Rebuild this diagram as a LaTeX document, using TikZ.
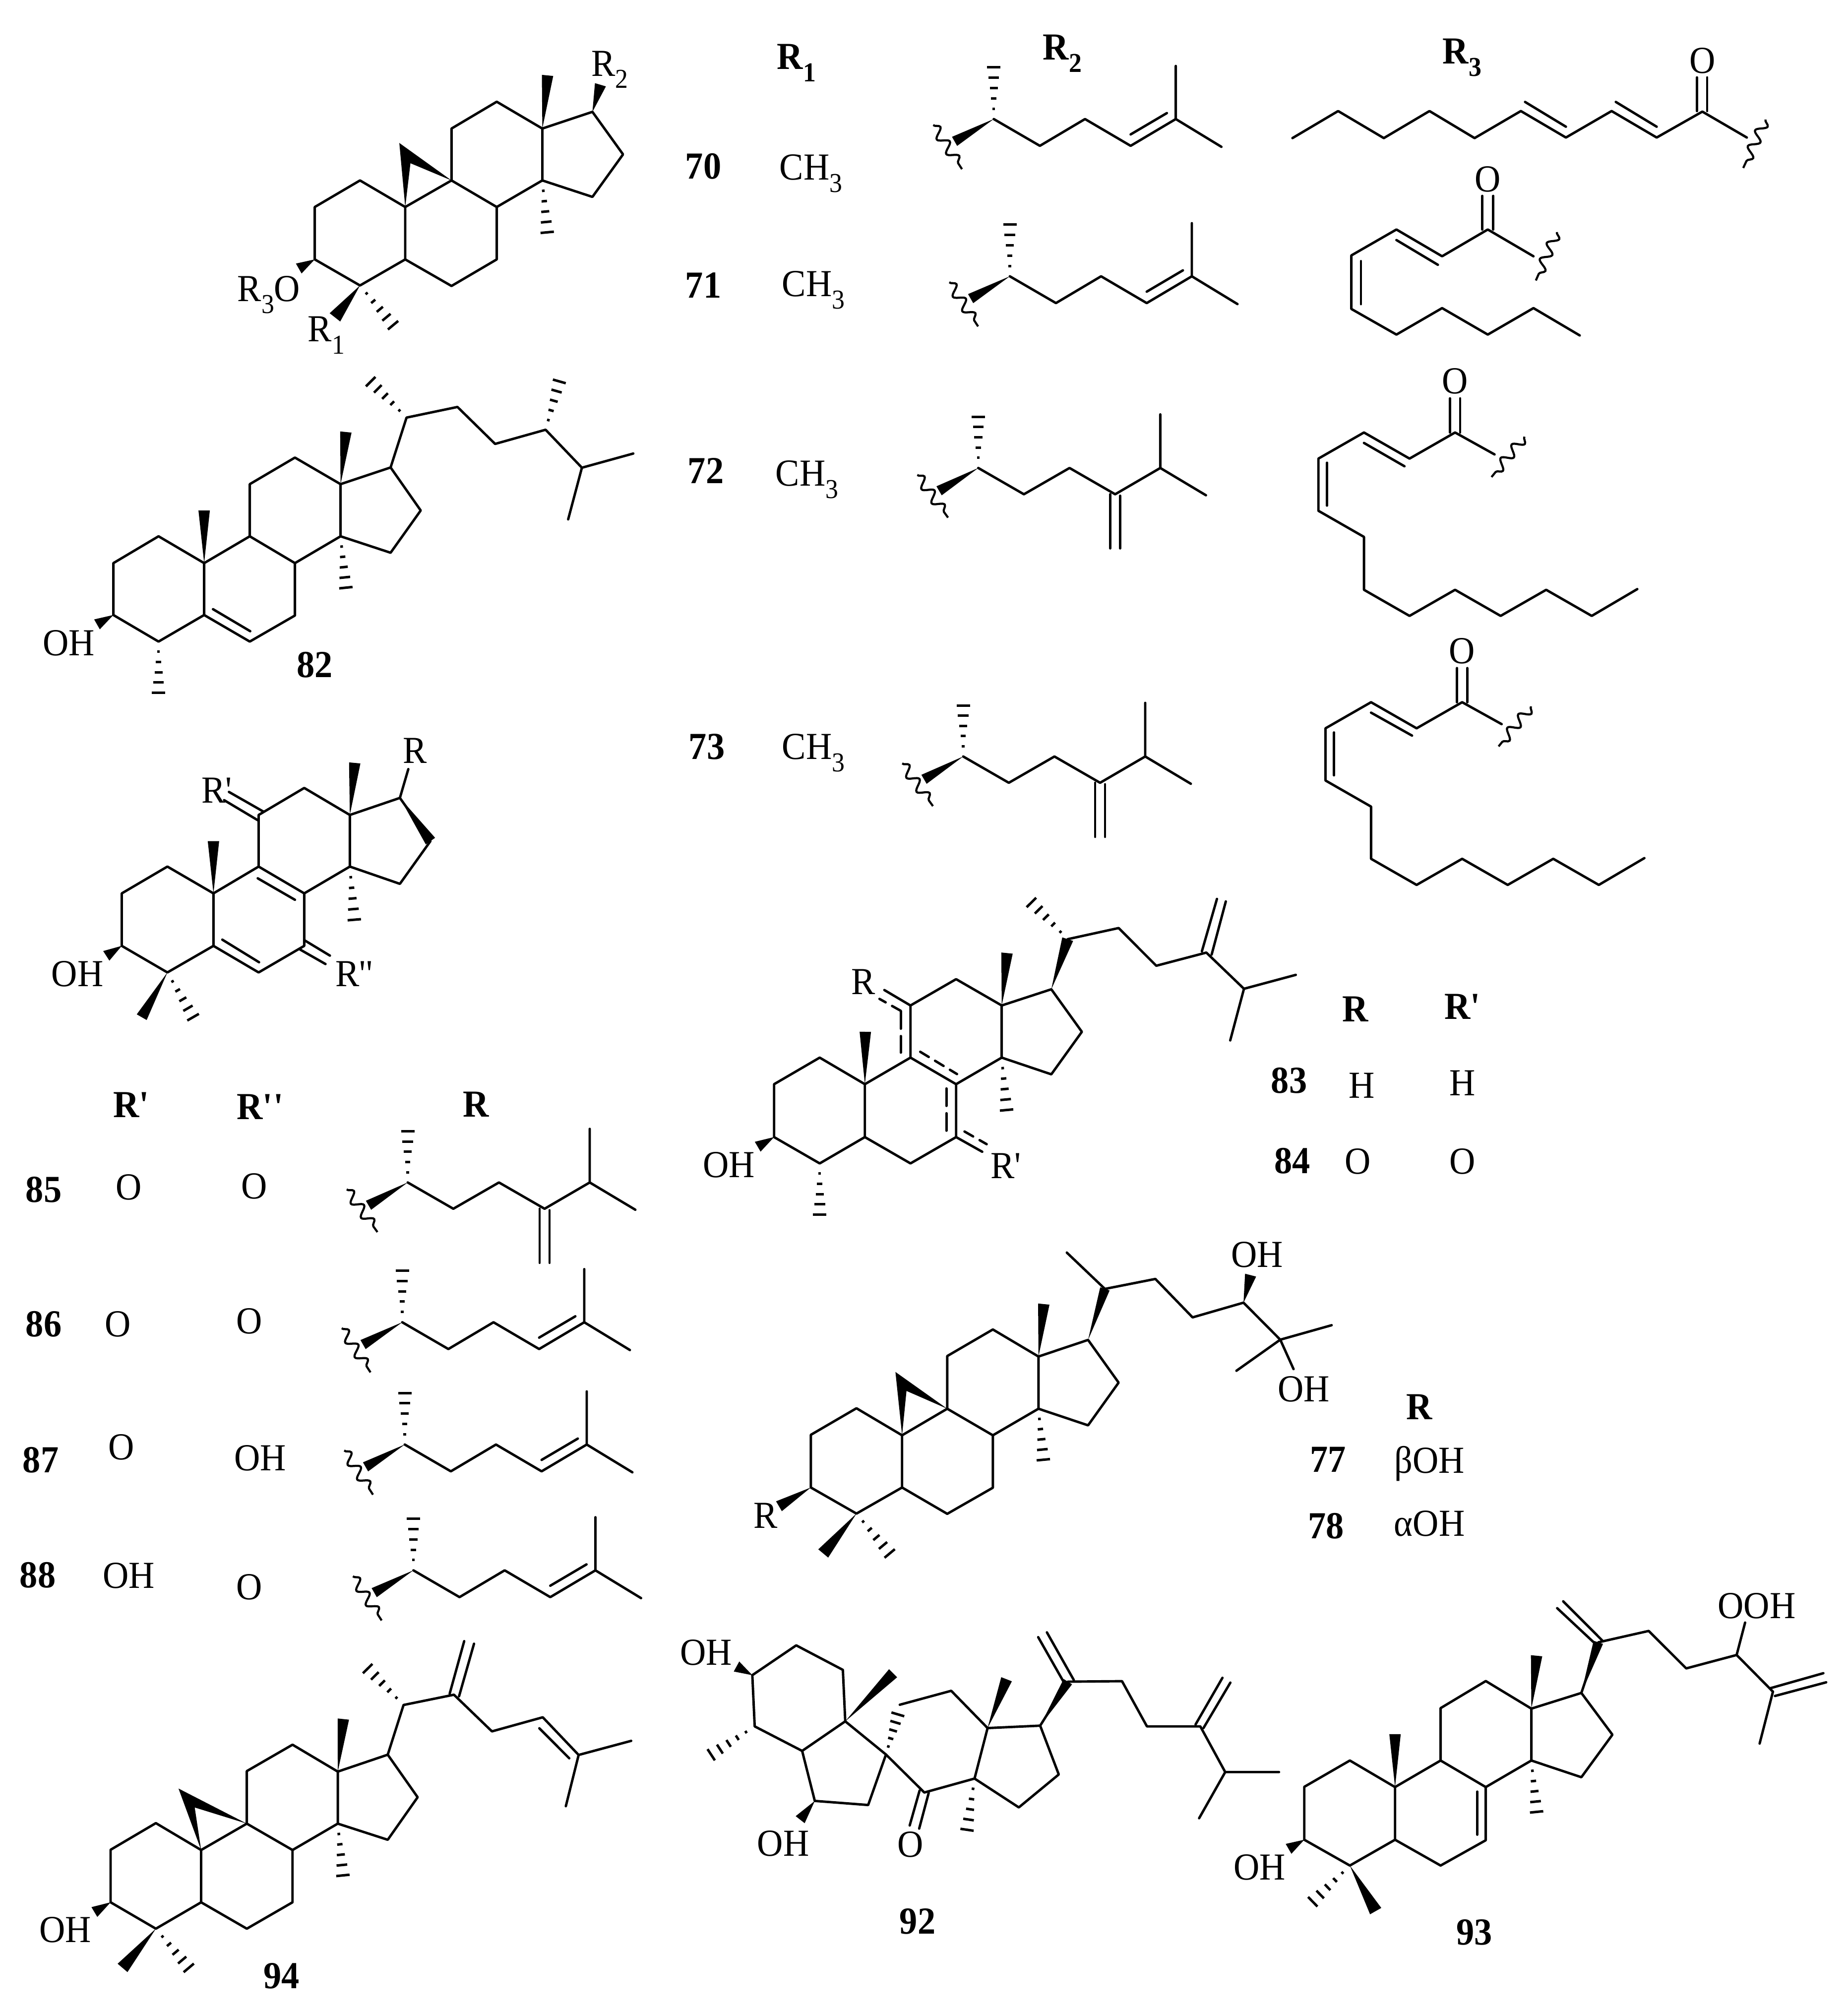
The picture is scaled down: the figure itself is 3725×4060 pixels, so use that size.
\documentclass[tikz,border=0pt]{standalone}
\usepackage{fontspec}
\setmainfont[FakeStretch=0.94]{Liberation Serif}
\usetikzlibrary{calc,decorations.pathmorphing}
\newcommand{\atoms}[2]{\foreach \n/\x/\y in {#2}{\coordinate (#1\n) at (\x,\y);}}
\newcommand{\wedgebond}[3][2.3pt]{\fill (#2) -- ($(#3)!#1!90:(#2)$) -- ($(#3)!#1!-90:(#2)$) -- cycle;}
\newcommand{\hashbond}[2]{%
  \coordinate (hashp) at ($(#2)!2.7pt!90:(#1)$);
  \coordinate (hashq) at ($(#2)!2.7pt!-90:(#1)$);
  \foreach \st in {0.2,0.4,0.6,0.8,1}{\draw[hashline] ($(#1)!\st!(hashp)$) -- ($(#1)!\st!(hashq)$);}}
% the four rings, atoms a to q
\newcommand{\rings}[1]{%
  \draw[bond] (#1a) -- (#1b) -- (#1c) -- (#1d) -- (#1e) -- (#1f) -- cycle;
  \draw[bond] (#1c) -- (#1g) -- (#1h) -- (#1i) -- (#1j) -- (#1d);
  \draw[bond] (#1g) -- (#1k) -- (#1l) -- (#1m) -- (#1n) -- (#1h);
  \draw[bond] (#1m) -- (#1o) -- (#1p) -- (#1q) -- (#1n);}
% side chain with the inner double bond
\newcommand{\chainA}[3]{%
  \begin{scope}[shift={(#2,#3)}]
  \atoms{#1}{a/0/0,h/0/-104,w/-79/45,b/93/54,c/184/0,d/276/54,e/367/0,f/367/-107,g/459/56,p/276/31,q/349/-12,u/-122/12,v/-64/101}
  \wedgebond[2.1pt]{#1a}{#1w}
  \hashbond{#1a}{#1h}
  \draw[bond] (#1a) -- (#1b) -- (#1c) -- (#1d) -- (#1e) -- (#1f);
  \draw[bond] (#1e) -- (#1g);
  \draw[bond] (#1p) -- (#1q);
  \draw[wavybond] (#1u) -- (#1v);
  \end{scope}}
% side chain with the exocyclic methylene
\newcommand{\chainB}[3]{%
  \begin{scope}[shift={(#2,#3)}]
  \atoms{#1}{a/0/0,h/0/-103,w/-79/46,b/92/53,c/184/0,d/276/53,e/367/0,f/367/-108,g/459/55,p/266/53,q/266/162,r/286/56,s/286/162,u/-123/14,v/-61/100}
  \wedgebond[2.1pt]{#1a}{#1w}
  \hashbond{#1a}{#1h}
  \draw[bond] (#1a) -- (#1b) -- (#1c) -- (#1d) -- (#1e) -- (#1f);
  \draw[bond] (#1e) -- (#1g);
  \draw[bond] (#1p) -- (#1q);
  \draw[bond] (#1r) -- (#1s);
  \draw[wavybond] (#1u) -- (#1v);
  \end{scope}}
\newcommand{\lowered}[1]{\raisebox{-0.32em}{\fontsize{11}{12}\selectfont #1}}
\begin{document}
\begin{tikzpicture}
[x=0.2pt,y=-0.2pt,
  bond/.style={line width=0.98pt,line join=round,line cap=round},
  hashline/.style={line width=1pt},
  wavybond/.style={line width=0.85pt,decorate,decoration={snake,segment length=7pt,amplitude=2pt}},
  txt/.style={inner sep=0pt,font=\fontsize{15.4}{18}\selectfont},
  num/.style={inner sep=0pt,font=\fontsize{15.4}{18}\selectfont\bfseries}]
\useasboundingbox (0,0) rectangle (3725,4060);
% 70-73 ring system
\begin{scope}[shift={(300,0)},x=0.14031pt,y=-0.10204pt]
\atoms{A}{a/477/818,b/607/713,c/737/818,d/737/1025,e/607/1128,f/477/1025,g/870/713,h/1000/818,i/1000/1025,j/870/1130,k/870/508,l/1000/402,m/1131/508,n/1131/713,o/1275/442,p/1363/610,q/1275/778,r/720/565,s/752/645,w1/1146/298,w2/1298/335,w3/431/1061,w4/535/1254,h1/1145/918,h2/702/1285}
\rings{A}
\fill (Ac) -- (Ar) -- (Ag) -- (As) -- cycle;
\wedgebond{Am}{Aw1}
\wedgebond{Ao}{Aw2}
\wedgebond{Af}{Aw3}
\wedgebond[2.7pt]{Ae}{Aw4}
\hashbond{An}{Ah1}
\hashbond{Ae}{Ah2}
\node[txt] (AR2) at (1325,275) {R\lowered{2}};
\node[txt] (AR3O) at (345,1165) {R\lowered{3}O};
\node[txt] (AR1) at (510,1325) {R\lowered{1}};
\end{scope}
% table heads and rows of 70-73
\node[num] (headR1) at (1606,127) {R\lowered{\bfseries 1}};
\node[num] (headR2) at (2142,108) {R\lowered{\bfseries 2}};
\node[num] (headR3) at (2948,116) {R\lowered{\bfseries 3}};
\node[num] (n70) at (1418,335) {70};
\node[num] (n71) at (1418,575) {71};
\node[num] (n72) at (1423,949) {72};
\node[num] (n73) at (1425,1505) {73};
\node[txt] (me70) at (1635,350) {CH\lowered{3}};
\node[txt] (me71) at (1640,585) {CH\lowered{3}};
\node[txt] (me72) at (1627,967) {CH\lowered{3}};
\node[txt] (me73) at (1640,1518) {CH\lowered{3}};
\chainA{ca}{2003.6}{240}
\chainA{cb}{2036}{557}
\chainB{cc}{1972.4}{943.4}
\chainB{cd}{1942}{1525}
% acyl groups 70, 71
\begin{scope}[shift={(1800,0)},x=0.24235pt,y=-0.1148pt]
\atoms{P}{a/665/485,b/741/390,c/817/485,d/893/390,e/968/485,f/1045/390,g/1120/483,h/1196/390,i/1271/483,j/1347/392,k/1421/483,l/1052/358,m/1120/445,n/1203/358,o/1271/445,p/1338/390,q/1338/272,r/1355/390,s/1355/272,u/1452/420,v/1415/590}
\draw[bond] (Pa) -- (Pb) -- (Pc) -- (Pd) -- (Pe) -- (Pf) -- (Pg) -- (Ph) -- (Pi) -- (Pj) -- (Pk);
\draw[bond] (Pl) -- (Pm);
\draw[bond] (Pn) -- (Po);
\draw[bond] (Pp) -- (Pq);
\draw[bond] (Pr) -- (Ps);
\draw[wavybond] (Pu) -- (Pv);
\node[txt] (PO) at (1347,213) {O};
\atoms{Q}{a/990/806,b/914/900,c/838/806,d/763/897,e/763/1085,f/838/1175,g/914/1082,h/990/1175,i/1066/1082,j/1143/1178,k/1066/900,l/907/930,m/838/843,n/779/917,o/779/1068,p/981/806,q/981/688,r/999/806,s/999/688,u/1105/815,v/1070/985}
\draw[bond] (Qk) -- (Qa) -- (Qb) -- (Qc) -- (Qd) -- (Qe) -- (Qf) -- (Qg) -- (Qh) -- (Qi) -- (Qj);
\draw[bond] (Ql) -- (Qm);
\draw[bond] (Qn) -- (Qo);
\draw[bond] (Qp) -- (Qq);
\draw[bond] (Qr) -- (Qs);
\draw[wavybond] (Qu) -- (Qv);
\node[txt] (QO) at (990,630) {O};
\end{scope}
% acyl groups 72, 73
\begin{scope}[shift={(1750,700)},x=0.20408pt,y=-0.1403pt]
\atoms{S}{a/1160/245,b/1070/320,c/980/245,d/890/320,e/890/470,f/980/545,g/980/697,h/1070/772,i/1160/697,j/1250/772,k/1340/697,l/1430/772,m/1520/695,n/1238/308,o/1060/342,p/980/275,q/907/332,r/907/455,t/1150/245,v/1150/147,w/1170/245,x/1170/147,y/1297/257,z/1232/373}
\draw[bond] (Sn) -- (Sa) -- (Sb) -- (Sc) -- (Sd) -- (Se) -- (Sf) -- (Sg) -- (Sh) -- (Si) -- (Sj) -- (Sk) -- (Sl) -- (Sm);
\draw[bond] (So) -- (Sp);
\draw[bond] (Sq) -- (Sr);
\draw[bond] (St) -- (Sv);
\draw[bond] (Sw) -- (Sx);
\draw[wavybond] (Sy) -- (Sz);
\node[txt] (SO) at (1160,98) {O};
\atoms{T}{a/1174/1020,b/1084/1095,c/994/1020,d/904/1095,e/904/1245,f/994/1320,g/994/1470,h/1084/1545,i/1174/1470,j/1264/1545,k/1354/1470,l/1444/1545,m/1534/1468,n/1252/1083,o/1075/1116,p/994/1050,q/921/1107,r/921/1230,t/1164/1020,v/1164/922,w/1184/1020,x/1184/922,y/1310/1032,z/1246/1147}
\draw[bond] (Tn) -- (Ta) -- (Tb) -- (Tc) -- (Td) -- (Te) -- (Tf) -- (Tg) -- (Th) -- (Ti) -- (Tj) -- (Tk) -- (Tl) -- (Tm);
\draw[bond] (To) -- (Tp);
\draw[bond] (Tq) -- (Tr);
\draw[bond] (Tt) -- (Tv);
\draw[bond] (Tw) -- (Tx);
\draw[wavybond] (Ty) -- (Tz);
\node[txt] (TO) at (1174,873) {O};
\end{scope}
% 82
\begin{scope}[shift={(0,700)},x=0.17857pt,y=-0.10204pt]
\atoms{B}{a/256/853,b/358/747,c/461/853,d/461/1058,e/358/1163,f/256/1058,g/564/747,h/666/853,i/666/1060,j/564/1163,k/564/541,l/666/436,m/769/541,n/769/747,o/882/475,p/950/645,q/882/812,r/918/278,s/1033/236,t/1118/382,u/1232/326,v/1314/476,w/1430/420,x/1283/680,y/481/1035,z/565/1122,w1/461/645,w2/781/335,w3/219/1095,h1/781/950,h2/358/1365,h3/837/136,h4/1263/135}
\rings{B}
\draw[bond] (By) -- (Bz);
\draw[bond] (Bo) -- (Br) -- (Bs) -- (Bt) -- (Bu) -- (Bv) -- (Bw);
\draw[bond] (Bv) -- (Bx);
\wedgebond{Bc}{Bw1}
\wedgebond{Bm}{Bw2}
\wedgebond{Bf}{Bw3}
\hashbond{Bn}{Bh1}
\hashbond{Be}{Bh2}
\hashbond{Br}{Bh3}
\hashbond{Bu}{Bh4}
\node[txt] (BOH) at (155,1168) {OH};
\node[num] (n82) at (711,1255) {82};
\end{scope}
% 85-88 ring system
\begin{scope}[shift={(0,1450)},x=0.17857pt,y=-0.08929pt]
\atoms{C}{a/275/786,b/378/665,c/482/786,d/482/1023,e/378/1143,f/275/1023,g/584/665,h/687/786,i/687/1023,j/584/1143,k/584/432,l/687/310,m/790/432,n/790/665,o/903/355,p/972/550,q/903/743,r/922/225,s/582/718,t/666/815,u/502/995,v/585/1097,a1/584/458,a2/506/365,a3/595/417,a4/517/328,b1/687/997,b2/745/1067,b3/678/1040,b4/735/1105,w1/482/550,w2/801/197,w3/240/1068,w4/320/1345,h1/800/905,h2/436/1345}
\rings{C}
\draw[bond] (Co) -- (Cr);
\draw[bond] (Cs) -- (Ct);
\draw[bond] (Cu) -- (Cv);
\draw[bond] (Ca1) -- (Ca2);
\draw[bond] (Ca3) -- (Ca4);
\draw[bond] (Cb1) -- (Cb2);
\draw[bond] (Cb3) -- (Cb4);
\wedgebond{Cc}{Cw1}
\wedgebond{Cm}{Cw2}
\wedgebond{Co}{Cp}
\wedgebond{Cf}{Cw3}
\wedgebond{Ce}{Cw4}
\hashbond{Cn}{Ch1}
\hashbond{Ce}{Ch2}
\node[txt] (COH) at (175,1150) {OH};
\node[txt] (CR1) at (490,320) {R\textquotesingle};
\node[txt] (CR2) at (800,1150) {R\textquotesingle\textquotesingle};
\node[txt] (CR) at (937,142) {R};
\end{scope}
% table of 85-88
\node[num] (headRa) at (265,2227) {R\textquotesingle};
\node[num] (headRb) at (525,2231) {R\textquotesingle\textquotesingle};
\node[num] (headRc) at (960,2226) {R};
\node[num] (n85) at (88,2398) {85};
\node[num] (n86) at (88,2669) {86};
\node[num] (n87) at (82,2943) {87};
\node[num] (n88) at (76,3175) {88};
\node[txt] (r85a) at (260,2393) {O};
\node[txt] (r85b) at (513,2391) {O};
\node[txt] (r86a) at (238,2669) {O};
\node[txt] (r86b) at (503,2663) {O};
\node[txt] (r87a) at (245,2917) {O};
\node[txt] (r87b) at (525,2939) {OH};
\node[txt] (r88a) at (260,3176) {OH};
\node[txt] (r88b) at (503,3199) {O};
\chainB{ce}{822}{2383.7}
\chainA{cf}{811}{2665.5}
\chainA{cg}{816}{2912}
\chainA{ch}{833.5}{3165.6}
% 83, 84
\begin{scope}[shift={(1300,1780)},x=0.17857pt,y=-0.10204pt]
\atoms{D}{a/292/795,b/395/690,c/497/795,d/497/1004,e/395/1108,f/292/1004,g/600/690,h/703/795,i/703/1004,j/600/1108,k/600/484,l/703/380,m/806/484,n/806/690,o/918/420,p/987/588,q/918/756,r/955/222,s/1070/178,t/1155/327,u/1268/275,v/1353/418,w/1470/363,x/1322/622,y1/1258/270,y2/1292/63,y3/1280/283,y4/1312/73,a1/578/507,a2/578/670,b1/622/667,b2/705/755,c1/681/812,c2/681/985,d1/541/423,d2/578/505,d3/530/458,e1/762/1062,e2/722/982,e3/772/1032,w1/498/588,w2/818/277,w3/255/1042,h1/817/897,h2/395/1310,h3/873/77}
\rings{D}
\draw[bond] (Dk) -- (Dd1);
\draw[bond] (Di) -- (De1);
\draw[bond,dashed,dash pattern=on 7pt off 3pt] (Da1) -- (Da2);
\draw[bond,dashed,dash pattern=on 4pt off 3pt] (Db1) -- (Db2);
\draw[bond,dashed,dash pattern=on 7pt off 3pt] (Dc1) -- (Dc2);
\draw[bond,dashed,dash pattern=on 4pt off 3pt] (Dd2) -- (Dd3);
\draw[bond,dashed,dash pattern=on 4pt off 3pt] (De2) -- (De3);
\draw[bond] (Dr) -- (Ds) -- (Dt) -- (Du) -- (Dv) -- (Dw);
\draw[bond] (Dv) -- (Dx);
\draw[bond] (Dy1) -- (Dy2);
\draw[bond] (Dy3) -- (Dy4);
\wedgebond{Dc}{Dw1}
\wedgebond{Dm}{Dw2}
\wedgebond{Do}{Dr}
\wedgebond{Df}{Dw3}
\hashbond{Dn}{Dh1}
\hashbond{De}{Dh2}
\hashbond{Dr}{Dh3}
\node[txt] (DOH) at (190,1115) {OH};
\node[txt] (DR1) at (816,1118) {R\textquotesingle};
\node[txt] (DR) at (493,390) {R};
\node[num] (n83) at (1455,780) {83};
\node[num] (n84) at (1462,1098) {84};
\end{scope}
\node[num] (headRd) at (2733,2034) {R};
\node[num] (headRe) at (2949,2029) {R\textquotesingle};
\node[txt] (r83a) at (2746,2188) {H};
\node[txt] (r83b) at (2949,2183) {H};
\node[txt] (r84a) at (2738,2341) {O};
\node[txt] (r84b) at (2949,2341) {O};
% 77, 78
\begin{scope}[shift={(1450,2450)},x=0.17857pt,y=-0.09566pt]
\atoms{E}{a/207/925,b/310/813,c/413/927,d/413/1147,e/310/1257,f/207/1147,g/515/815,h/618/927,i/618/1148,j/515/1258,k/515/593,l/618/481,m/721/595,n/721/815,o/833/525,p/902/705,q/833/885,r/398/660,s/423/740,t/871/310,u/785/157,v/985/268,w/1069/430,x/1184/368,y/1267/524,z/1383/463,y1/1168/655,y2/1297/648,w1/733/374,w2/135/1226,w3/235/1425,w4/1200/252,h1/732/1030,h2/385/1425}
\rings{E}
\fill (Ec) -- (Er) -- (Eg) -- (Es) -- cycle;
\draw[bond] (Et) -- (Eu);
\draw[bond] (Et) -- (Ev) -- (Ew) -- (Ex) -- (Ey) -- (Ez);
\draw[bond] (Ey) -- (Ey1);
\draw[bond] (Ey) -- (Ey2);
\wedgebond{Em}{Ew1}
\wedgebond[2pt]{Eo}{Et}
\wedgebond{Ef}{Ew2}
\wedgebond[2.6pt]{Ee}{Ew3}
\wedgebond{Ex}{Ew4}
\hashbond{En}{Eh1}
\hashbond{Ee}{Eh2}
\node[txt] (EOHa) at (1215,165) {OH};
\node[txt] (EOHb) at (1320,733) {OH};
\node[txt] (ER) at (105,1265) {R};
\node[num] (n77) at (1375,1030) {77};
\node[num] (n78) at (1370,1310) {78};
\end{scope}
\node[num] (headRf) at (2862,2836) {R};
\node[txt] (r77) at (2882,2951) {βOH};
\node[txt] (r78) at (2882,3071) {αOH};
% 94
\begin{scope}[shift={(0,3250)},x=0.17219pt,y=-0.10332pt]
\atoms{F}{a/259/927,b/365/823,c/471/928,d/471/1132,e/365/1235,f/259/1132,g/578/825,h/685/928,i/685/1132,j/578/1235,k/578/620,l/685/517,m/791/622,n/791/825,o/908/556,p/978/722,q/908/888,r/418/688,s/456/762,t/945/362,u/1063/322,v/1152/465,w/1271/410,x/1355/557,y/1478/502,z/1325/757,a1/1263/453,a2/1333/570,b1/1053/318,b2/1087/113,b3/1075/328,b4/1110/123,w1/804/417,w2/221/1170,w3/287/1388,h1/803/1027,h2/442/1388,h3/861/220}
\rings{F}
\fill (Fc) -- (Fr) -- (Fg) -- (Fs) -- cycle;
\draw[bond] (Fo) -- (Ft) -- (Fu) -- (Fv) -- (Fw) -- (Fx) -- (Fy);
\draw[bond] (Fx) -- (Fz);
\draw[bond] (Fa1) -- (Fa2);
\draw[bond] (Fb1) -- (Fb2);
\draw[bond] (Fb3) -- (Fb4);
\wedgebond{Fm}{Fw1}
\wedgebond{Ff}{Fw2}
\wedgebond[2.6pt]{Fe}{Fw3}
\hashbond{Fn}{Fh1}
\hashbond{Fe}{Fh2}
\hashbond{Ft}{Fh3}
\node[txt] (FOH) at (153,1240) {OH};
\node[num] (n94) at (659,1420) {94};
\end{scope}
% 92
\begin{scope}[shift={(1300,3200)},x=0.15944pt,y=-0.09694pt]
\atoms{G}{a/272/365,b/383/241,c/501/343,d/507/557,e/398/680,f/278/578,g/430/888,h/565/905,i/610/695,j/707/853,k/834/795,l/867/585,m/775/430,m1/645/488,n/1000/575,p/1047/778,q/946/915,s/1070/392,t/1207/390,u/1270/578,v/1405/578,x/1468/768,w/1604/768,y/1402/960,a1/1060/395,a2/995/207,a3/1085/385,a4/1017/187,b1/1393/570,b2/1461/376,b3/1413/585,b4/1481/396,c1/695/845,c2/670/990,c3/718/855,c4/694/1003,w1/915/382,w2/628/357,w3/232/329,w4/393/966,h1/640/528,h2/168/696,h3/815/1008}
\draw[bond] (Ga) -- (Gb) -- (Gc) -- (Gd) -- (Ge) -- (Gf) -- cycle;
\draw[bond] (Ge) -- (Gg) -- (Gh) -- (Gi) -- (Gd);
\draw[bond] (Gi) -- (Gj) -- (Gk) -- (Gl) -- (Gn) -- (Gp) -- (Gq) -- (Gk);
\draw[bond] (Gl) -- (Gm) -- (Gm1);
\draw[bond] (Gn) -- (Gs) -- (Gt) -- (Gu) -- (Gv) -- (Gx) -- (Gw);
\draw[bond] (Gx) -- (Gy);
\draw[bond] (Ga1) -- (Ga2);
\draw[bond] (Ga3) -- (Ga4);
\draw[bond] (Gb1) -- (Gb2);
\draw[bond] (Gb3) -- (Gb4);
\draw[bond] (Gc1) -- (Gc2);
\draw[bond] (Gc3) -- (Gc4);
\wedgebond{Gl}{Gw1}
\wedgebond{Gd}{Gw2}
\wedgebond{Ga}{Gw3}
\wedgebond{Gg}{Gw4}
\wedgebond[2pt]{Gn}{Gs}
\hashbond{Gi}{Gh1}
\hashbond{Gf}{Gh2}
\hashbond{Gk}{Gh3}
\node[txt] (GOHa) at (155,270) {OH};
\node[txt] (GOHb) at (350,1065) {OH};
\node[txt] (GO) at (672,1070) {O};
\node[num] (n92) at (690,1390) {92};
\end{scope}
% 93
\begin{scope}[shift={(2450,3150)},x=0.16263pt,y=-0.10204pt]
\atoms{H}{a/221/886,b/334/782,c/446/887,d/446/1095,e/334/1197,f/221/1095,g/559/782,h/671/887,i/671/1097,j/559/1197,k/559/575,l/671/468,m/784/577,n/784/782,o/908/515,p/985/680,q/908/848,r/950/315,s/1075/270,t/1168/418,u/1293/365,v/1383/510,x/1314/237,y/1350/715,a1/650/905,a2/650/1075,b1/942/320,b2/848/180,b3/960/308,b4/863/153,c1/1375/497,c2/1508/437,c3/1388/527,c4/1515/473,w1/446/678,w2/797/368,w3/182/1131,w4/398/1377,h1/797/985,h2/242/1340}
\rings{H}
\draw[bond] (Ha1) -- (Ha2);
\draw[bond] (Hb1) -- (Hb2);
\draw[bond] (Hb3) -- (Hb4);
\draw[bond] (Ho) -- (Hr) -- (Hs) -- (Ht) -- (Hu) -- (Hv);
\draw[bond] (Hu) -- (Hx);
\draw[bond] (Hc1) -- (Hc2);
\draw[bond] (Hc3) -- (Hc4);
\draw[bond] (Hv) -- (Hy);
\wedgebond{Hc}{Hw1}
\wedgebond{Hm}{Hw2}
\wedgebond[2pt]{Ho}{Hr}
\wedgebond{Hf}{Hw3}
\wedgebond[2.6pt]{He}{Hw4}
\hashbond{Hn}{Hh1}
\hashbond{He}{Hh2}
\node[txt] (HOH) at (110,1205) {OH};
\node[txt] (HOOH) at (1343,172) {OOH};
\node[num] (n93) at (643,1460) {93};
\end{scope}
\end{tikzpicture}
\end{document}
